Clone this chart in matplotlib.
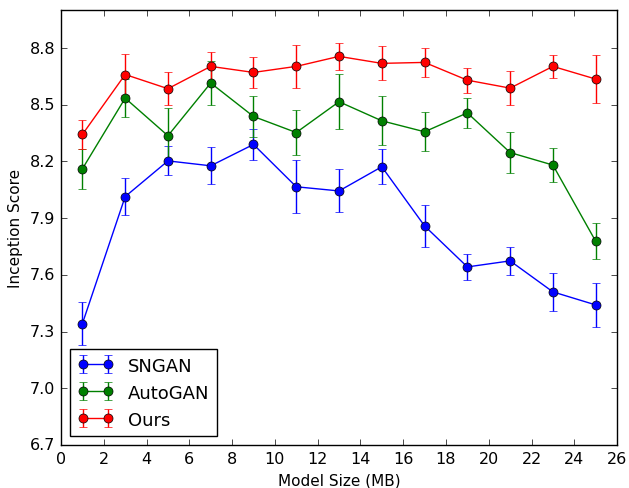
import matplotlib
matplotlib.use("Agg")
import matplotlib.pyplot as plt

model_size = [1, 3, 5, 7, 9, 11, 13, 15, 17, 19, 21, 23, 25]

sngan = [7.342, 8.014, 8.203, 8.177, 8.29, 8.066, 8.044, 8.172, 7.859, 7.642, 7.674, 7.51, 7.441]
sngan_err = [0.115, 0.099, 0.077, 0.098, 0.08, 0.14, 0.114, 0.093, 0.11, 0.07, 0.074, 0.1, 0.115]

autogan = [8.161, 8.535, 8.336, 8.615, 8.438, 8.353, 8.516, 8.415, 8.357, 8.457, 8.247, 8.181, 7.778]
autogan_err = [0.105, 0.1, 0.146, 0.115, 0.107, 0.12, 0.145, 0.13, 0.103, 0.08, 0.109, 0.091, 0.095]

ours = [8.343, 8.66, 8.585, 8.703, 8.671, 8.703, 8.756, 8.719, 8.724, 8.63, 8.588, 8.703, 8.636]
ours_err = [0.077, 0.11, 0.088, 0.075, 0.08, 0.115, 0.073, 0.09, 0.075, 0.067, 0.09, 0.062, 0.126]

labels = ["SNGAN", "AutoGAN", "Ours"]
yticks = [6.7, 7.0, 7.3, 7.6, 7.9, 8.2, 8.5, 8.8]

plt.style.use("classic")
fig = plt.figure(figsize=(6.29, 4.89), dpi=100, facecolor="white")
ax = fig.add_axes([0.097, 0.088, 0.884, 0.889])

for y, e, c, lab in [(sngan, sngan_err, "b", labels[0]),
                     (autogan, autogan_err, "g", labels[1]),
                     (ours, ours_err, "r", labels[2])]:
    ax.errorbar(model_size, y, yerr=e, color=c, marker="o", markersize=6.5,
                markeredgecolor="k", markeredgewidth=0.5, capsize=3,
                linewidth=1.0, label=lab)

ax.set_xlim(0, 26)
ax.set_ylim(6.7, 9.0)
ax.set_xticks(range(0, 27, 2))
ax.set_yticks(yticks)
ax.set_yticklabels([f"{v:.1f}" for v in yticks])
ax.tick_params(labelsize=11.5)
ax.set_xlabel("Model Size (MB)", fontsize=11)
ax.set_ylabel("Inception Score", fontsize=11)
ax.legend(loc="lower left", fontsize=13, numpoints=2, fancybox=False)

fig.savefig("out.png", dpi=100, facecolor="white")
